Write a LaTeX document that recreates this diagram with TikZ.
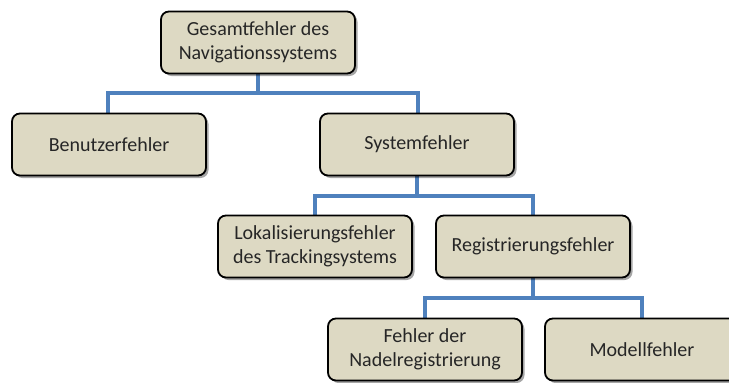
\documentclass[tikz,border=0pt]{standalone}
\usepackage{fontspec}
\setmainfont{Carlito}
\usetikzlibrary{shadows}
\definecolor{boxfill}{RGB}{221,217,195}
\definecolor{linkblue}{RGB}{79,129,189}
\tikzset{
  errbox/.style={draw=black, line width=1.8pt, fill=boxfill, rounded corners=8pt,
    minimum width=194pt, minimum height=62pt, align=center, inner sep=2pt,
    font=\fontsize{20}{23.5}\selectfont, text=black!85,
    drop shadow={shadow xshift=2.5pt, shadow yshift=-2.5pt, opacity=0.35, fill=black}},
  link/.style={draw=linkblue, line width=3.5pt}
}
\begin{document}
\begin{tikzpicture}[x=1pt,y=-1pt]
\useasboundingbox (0,0) rectangle (729,383);
% tree connectors
\coordinate (j1) at (258,93);
\coordinate (j2) at (417,196);
\coordinate (j3) at (533,298);
\draw[link] (258,73) -- (j1);
\draw[link] (108,113) |- (j1) -| (418,113);
\draw[link] (417,176) -- (j2);
\draw[link] (315,215) |- (j2) -| (533,215);
\draw[link] (533,278) -- (j3);
\draw[link] (425,318) |- (j3) -| (642,318);
% boxes
\node[errbox] (top) at (258,42.5) {Gesamtfehler des\\Navigationssystems};
\node[errbox] (ben) at (109,144.5) {Benutzerfehler};
\node[errbox] (sys) at (417,144.5) {Systemfehler};
\node[errbox] (lok) at (315,246.5) {Lokalisierungsfehler\\des Trackingsystems};
\node[errbox] (reg) at (533,246.5) {Registrierungsfehler};
\node[errbox] (nad) at (425,349.5) {Fehler der\\Nadelregistrierung};
\node[errbox] (mod) at (642,349.5) {Modellfehler};
\end{tikzpicture}
\end{document}
